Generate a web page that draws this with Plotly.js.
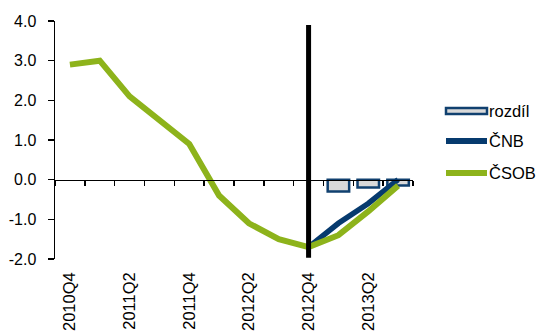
<!DOCTYPE html>
<html>
<head>
<meta charset="utf-8">
<script src="https://cdn.plot.ly/plotly-3.0.1.min.js"></script>
<style>
  html, body { margin: 0; padding: 0; background: #fff; }
  #chart { width: 540px; height: 331px; }
</style>
</head>
<body>
<div id="chart"></div>
<script>
// ---- data ----
var quarters = ['2010Q4','2011Q1','2011Q2','2011Q3','2011Q4','2012Q1','2012Q2','2012Q3','2012Q4','2013Q1','2013Q2','2013Q3'];
var labelQuarters = ['2010Q4','2011Q2','2011Q4','2012Q2','2012Q4','2013Q2'];
var csob = [2.9, 3.0, 2.1, 1.5, 0.9, -0.4, -1.1, -1.5, -1.7, -1.4, -0.8, -0.15];
var cnbQuarters = ['2012Q4','2013Q1','2013Q2','2013Q3'];
var cnb = [-1.7, -1.1, -0.6, 0.0];
var diffQuarters = ['2013Q1','2013Q2','2013Q3'];
var rozdil = [-0.3, -0.2, -0.15];
var seriesNames = ['rozdíl', 'ČNB', 'ČSOB'];
var forecastStart = '2012Q4';
var yTickVals = [-2, -1, 0, 1, 2, 3, 4];
var yTickLabels = ['-2.0', '-1.0', '0.0', '1.0', '2.0', '3.0', '4.0'];
var yRange = [-2, 4];
var forecastLineTop = 3.9;

// ---- styles ----
var GREEN = '#8DB31B';
var BLUE = '#063A6E';
var BAR_FILL = '#D9D9D9';
var BAR_LINE = '#10406F';
var FONT = 'Liberation Sans, Arial, sans-serif';

var traces = [
  { type: 'bar', x: diffQuarters, y: rozdil, name: seriesNames[0], width: 0.72,
    marker: { color: BAR_FILL, line: { color: BAR_LINE, width: 2.5 } },
    xaxis: 'x', yaxis: 'y', showlegend: false, hoverinfo: 'skip' },
  { type: 'scatter', mode: 'lines', x: cnbQuarters, y: cnb, name: seriesNames[1],
    line: { color: BLUE, width: 5.5 }, xaxis: 'x', yaxis: 'y', showlegend: false },
  { type: 'scatter', mode: 'lines', x: quarters, y: csob, name: seriesNames[2],
    line: { color: GREEN, width: 6 }, xaxis: 'x', yaxis: 'y', showlegend: false },
  // invisible carrier so the crossing axis knows every category
  { type: 'scatter', mode: 'lines', x: quarters, y: csob, opacity: 0,
    line: { width: 0 }, xaxis: 'x2', yaxis: 'y', showlegend: false, hoverinfo: 'skip' }
];

// plot area in pixels: left 55, right 413, top 21, bottom 259
var L = 55, R = 413, T = 21, B = 259;
function px(x) { return (x - L) / (R - L); }
function py(y) { return (B - y) / (B - T); }

var legendRows = [
  { y: 111, kind: 'box', color: BAR_FILL, line: BAR_LINE },
  { y: 141, kind: 'line', color: BLUE },
  { y: 173, kind: 'line', color: GREEN }
];

var shapes = [
  { type: 'line', xref: 'x', yref: 'y', x0: forecastStart, x1: forecastStart,
    y0: yRange[0] + 0.03, y1: forecastLineTop, line: { color: '#000', width: 5 }, layer: 'above' }
];
var annotations = [];
legendRows.forEach(function (r, i) {
  if (r.kind === 'box') {
    shapes.push({ type: 'rect', xref: 'paper', yref: 'paper',
      x0: px(446), x1: px(487), y0: py(r.y + 3), y1: py(r.y - 3),
      fillcolor: r.color, line: { color: r.line, width: 2.5 } });
  } else {
    shapes.push({ type: 'line', xref: 'paper', yref: 'paper',
      x0: px(446), x1: px(487), y0: py(r.y), y1: py(r.y),
      line: { color: r.color, width: 6 } });
  }
  annotations.push({ xref: 'paper', yref: 'paper', x: px(487), y: py(r.y),
    xanchor: 'left', yanchor: 'middle', showarrow: false, text: seriesNames[i],
    font: { family: FONT, size: 16.5, color: '#000' } });
});

var layout = {
  width: 540, height: 331,
  margin: { l: L, r: 540 - R, t: T, b: 331 - B },
  paper_bgcolor: '#fff', plot_bgcolor: '#fff',
  font: { family: FONT, size: 16, color: '#000' },
  showlegend: false,
  bargap: 0.28,
  xaxis: {
    type: 'category', categoryorder: 'array', categoryarray: quarters,
    range: [-0.5, quarters.length - 0.5],
    anchor: 'y', showline: false, showgrid: false, zeroline: false,
    ticks: '', tickmode: 'array', tickvals: labelQuarters, ticktext: labelQuarters,
    tickangle: -90, ticklabelstandoff: 9,
    tickfont: { family: FONT, size: 16.5, color: '#000' }, automargin: false, fixedrange: true
  },
  xaxis2: {
    type: 'category', categoryorder: 'array', categoryarray: quarters,
    range: [-0.5, quarters.length - 0.5],
    overlaying: 'x', anchor: 'free', position: (0 - yRange[0]) / (yRange[1] - yRange[0]),
    showline: true, linecolor: '#000', linewidth: 1.5,
    ticks: 'outside', ticklen: 5, tickwidth: 1.5, tickcolor: '#000', tickson: 'boundaries',
    showticklabels: false, showgrid: false, zeroline: false, automargin: false, fixedrange: true
  },
  yaxis: {
    range: yRange, domain: [0, 1],
    tickmode: 'array', tickvals: yTickVals, ticktext: yTickLabels,
    showline: true, linecolor: '#000', linewidth: 1.5,
    ticks: 'outside', ticklen: 6, tickwidth: 1.5, tickcolor: '#000',
    ticklabelstandoff: 8,
    showgrid: false, zeroline: false, automargin: false, fixedrange: true,
    tickfont: { family: FONT, size: 16, color: '#000' }
  },
  shapes: shapes,
  annotations: annotations
};

Plotly.newPlot('chart', traces, layout, { displayModeBar: false, staticPlot: true });
</script>
</body>
</html>
